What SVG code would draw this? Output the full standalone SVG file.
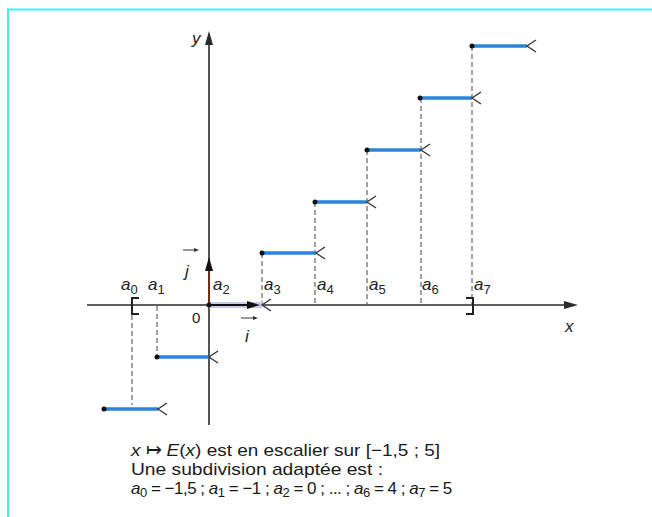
<svg xmlns="http://www.w3.org/2000/svg" width="652" height="517" viewBox="0 0 652 517">
<style>
.ax{stroke:#2a2a2a;stroke-width:1.6;fill:none}
.dash{stroke:#666;stroke-width:1.2;stroke-dasharray:5,3;fill:none}
.seg{stroke:#2a84d8;stroke-width:3.5;fill:none}
.open{stroke:#333;stroke-width:1.3;fill:none}
.dot{fill:#111}
.lab{font-family:"Liberation Sans",Arial,sans-serif;font-style:italic;font-size:17px;fill:#222}
.sub{font-size:13px;font-style:normal}
.txt{font-family:"Liberation Sans",Arial,sans-serif;font-size:17px;fill:#1a1a1a}
.it{font-style:italic}
</style>
<rect width="652" height="517" fill="#fff"/>
<path d="M8,517 V9.5 H652" stroke="#40f0f0" stroke-width="2" fill="none"/>

<g id="axes">
<line class="ax" x1="87" y1="305" x2="566" y2="305"/>
<polygon points="578,305 564,301 564,309" fill="#2a2a2a"/>
<line class="ax" x1="209" y1="425" x2="209" y2="44"/>
<polygon points="209,31 205,45 213,45" fill="#2a2a2a"/>
<text class="lab" x="192" y="44">y</text>
<text class="lab" x="565" y="332">x</text>
<text class="txt" x="192" y="323" style="font-size:15px">0</text>
</g>

<g id="connectors">
<line class="dash" x1="132" y1="315" x2="132" y2="405"/>
<line class="dash" x1="157" y1="306" x2="157" y2="355"/>
<line class="dash" x1="262" y1="253" x2="262" y2="305"/>
<line class="dash" x1="315" y1="202" x2="315" y2="305"/>
<line class="dash" x1="367" y1="150" x2="367" y2="305"/>
<line class="dash" x1="421" y1="98" x2="421" y2="305"/>
<line class="dash" x1="472" y1="46" x2="472" y2="305"/>
</g>

<g id="brackets">
<path d="M139,298 H132 V314 H139" stroke="#222" stroke-width="2" fill="none"/>
<path d="M466,298 H473 V314 H466" stroke="#222" stroke-width="2" fill="none"/>
</g>

<g id="vectors">
<rect x="209" y="302" width="53" height="6" fill="#c8c8f0"/>
<line x1="209" y1="305" x2="249" y2="305" stroke="#111" stroke-width="2"/>
<polygon points="260,305 247,301 247,309" fill="#111"/>
<line x1="209" y1="305" x2="209" y2="270" stroke="#7a2a10" stroke-width="2"/>
<polygon points="209,257 205,271 213,271" fill="#111"/>
<circle class="dot" cx="209" cy="305" r="2.5"/>
<polyline class="open" points="271,299 262,305 271,311"/>
<line x1="183" y1="250" x2="197" y2="250" stroke="#333" stroke-width="1"/>
<polygon points="199,250 194,248 194,252" fill="#333"/>
<text class="lab" x="185" y="277">j</text>
<line x1="241" y1="318" x2="256" y2="318" stroke="#333" stroke-width="1"/>
<polygon points="258,318 253,316 253,320" fill="#333"/>
<text class="lab" x="245" y="342">i</text>
</g>

<g id="steps">
<g id="s0"><line class="seg" x1="104" y1="409" x2="158" y2="409"/><circle class="dot" cx="104" cy="409" r="2.5"/><polyline class="open" points="167,403 158,409 167,415"/></g>
<g id="s1"><line class="seg" x1="157" y1="357" x2="209" y2="357"/><circle class="dot" cx="157" cy="357" r="2.5"/><polyline class="open" points="218,351 209,357 218,363"/></g>
<g id="s3"><line class="seg" x1="262" y1="253" x2="316" y2="253"/><circle class="dot" cx="262" cy="253" r="2.5"/><polyline class="open" points="325,247 316,253 325,259"/></g>
<g id="s4"><line class="seg" x1="315" y1="202" x2="367" y2="202"/><circle class="dot" cx="315" cy="202" r="2.5"/><polyline class="open" points="376,196 367,202 376,208"/></g>
<g id="s5"><line class="seg" x1="367" y1="150" x2="421" y2="150"/><circle class="dot" cx="367" cy="150" r="2.5"/><polyline class="open" points="430,144 421,150 430,156"/></g>
<g id="s6"><line class="seg" x1="420" y1="98" x2="472" y2="98"/><circle class="dot" cx="420" cy="98" r="2.5"/><polyline class="open" points="481,92 472,98 481,104"/></g>
<g id="s7"><line class="seg" x1="472" y1="46" x2="527" y2="46"/><circle class="dot" cx="472" cy="46" r="2.5"/><polyline class="open" points="536,40 527,46 536,52"/></g>
</g>

<g id="labels">
<text class="lab" x="121" y="290">a<tspan class="sub" dy="4">0</tspan></text>
<text class="lab" x="148" y="290">a<tspan class="sub" dy="4">1</tspan></text>
<text class="lab" x="213" y="290">a<tspan class="sub" dy="4">2</tspan></text>
<text class="lab" x="264" y="290">a<tspan class="sub" dy="4">3</tspan></text>
<text class="lab" x="317" y="290">a<tspan class="sub" dy="4">4</tspan></text>
<text class="lab" x="369" y="290">a<tspan class="sub" dy="4">5</tspan></text>
<text class="lab" x="422" y="290">a<tspan class="sub" dy="4">6</tspan></text>
<text class="lab" x="474" y="290">a<tspan class="sub" dy="4">7</tspan></text>
</g>

<g id="caption">
<text class="txt" x="131" y="456" textLength="309" lengthAdjust="spacingAndGlyphs"><tspan class="it">x</tspan> ↦ <tspan class="it">E</tspan>(<tspan class="it">x</tspan>) est en escalier sur [−1,5 ; 5]</text>
<text class="txt" x="131" y="475" textLength="252" lengthAdjust="spacingAndGlyphs">Une subdivision adaptée est :</text>
<text class="txt" x="131" y="494" style="letter-spacing:-0.5px"><tspan class="it">a</tspan><tspan font-size="13" dy="3">0</tspan><tspan dy="-3"> = −1,5 ; </tspan><tspan class="it">a</tspan><tspan font-size="13" dy="3">1</tspan><tspan dy="-3"> = −1 ; </tspan><tspan class="it">a</tspan><tspan font-size="13" dy="3">2</tspan><tspan dy="-3"> = 0 ; ... ; </tspan><tspan class="it">a</tspan><tspan font-size="13" dy="3">6</tspan><tspan dy="-3"> = 4 ; </tspan><tspan class="it">a</tspan><tspan font-size="13" dy="3">7</tspan><tspan dy="-3"> = 5</tspan></text>
</g>
</svg>
